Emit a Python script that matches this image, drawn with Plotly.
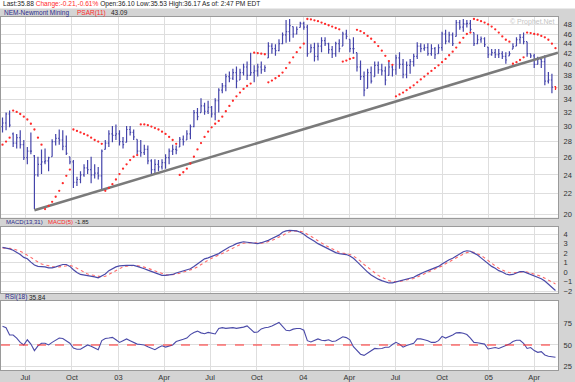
import math
import pandas as pd
import plotly.graph_objects as go

W, H = 575, 382

# ---------------- data (weekly bars) ----------------
weeks = pd.date_range("2002-05-17", periods=157, freq="7D")

high = [31.3,32.0,32.3,29.2,29.0,29.5,28.2,27.3,29.2,26.3,
        26.1,27.0,27.1,26.1,28.3,29.0,29.6,29.5,28.8,26.1,
        25.7,23.8,24.4,25.2,25.7,26.1,25.2,24.9,27.0,28.2,
        29.5,30.1,30.3,29.5,28.6,30.1,30.1,29.6,28.3,28.2,
        27.6,27.5,25.8,25.8,25.7,25.8,26.4,27.1,27.6,27.5,
        28.6,28.8,29.5,30.3,32.4,32.7,34.2,33.5,33.8,33.0,
        34.2,35.8,36.7,38.3,38.7,39.2,39.6,39.2,40.1,40.5,
        42.2,39.8,40.1,40.5,39.8,44.3,44.1,43.9,44.9,46.3,
        49.1,49.3,47.6,47.6,48.7,48.7,48.0,43.9,44.2,44.2,
        45.3,45.3,44.2,43.5,44.4,44.9,46.5,46.9,44.9,45.3,
        42.2,40.7,38.7,39.2,39.6,40.5,40.5,40.1,39.6,40.5,
        39.8,41.8,42.3,41.0,40.5,41.0,42.0,44.3,44.1,43.9,
        44.1,43.9,43.3,43.9,46.5,46.9,46.5,46.3,49.1,49.1,
        49.3,49.1,49.1,46.3,45.9,45.5,45.3,43.3,42.9,42.9,
        42.9,42.5,42.3,42.5,44.1,45.3,46.0,46.3,44.4,42.0,
        42.0,41.4,41.0,41.7,38.6,38.3,36.17]

low = [29.2,29.5,29.9,27.3,27.1,27.1,25.7,25.2,26.4,20.5,
       23.8,24.1,25.2,24.4,26.1,27.5,27.6,26.9,26.3,25.2,
       22.6,22.8,23.1,23.8,24.1,23.1,23.6,23.5,22.3,27.0,
       27.3,27.9,28.2,27.5,27.1,27.9,28.8,28.2,26.4,26.1,
       26.3,25.2,24.0,24.1,24.4,24.6,24.7,25.2,26.3,26.4,
       27.3,27.5,28.2,28.3,29.9,30.9,32.0,31.7,31.8,31.3,
       30.9,32.0,35.0,35.3,36.8,37.2,35.8,37.2,38.0,37.2,
       38.0,36.8,37.8,38.3,38.6,41.2,42.0,41.6,42.5,43.9,
       44.2,44.4,45.2,45.9,47.4,46.9,41.4,42.3,40.5,40.7,
       42.3,43.5,42.0,41.2,41.4,42.3,43.5,44.9,42.3,42.0,
       38.7,37.2,34.5,35.8,36.6,37.8,38.3,38.0,36.3,38.0,
       37.8,38.1,39.2,37.5,37.5,38.3,39.6,41.0,42.3,42.6,
       41.6,41.6,41.0,42.0,42.6,43.9,44.2,43.5,45.5,46.9,
       46.5,47.4,46.5,43.5,43.9,44.2,43.3,41.2,41.6,41.2,
       41.2,41.0,40.1,41.6,42.9,43.5,44.0,43.9,41.4,41.2,
       39.3,40.0,39.3,36.3,36.6,35.0,35.53]

open_ = [30.0,30.5,31.8,29.0,27.8,28.5,27.6,26.0,26.8,26.2,
         24.0,25.2,25.5,25.6,26.1,28.0,28.4,28.2,27.4,26.1,
         25.5,23.2,23.5,24.0,24.8,24.6,24.0,24.2,23.9,27.0,
         27.8,29.0,28.8,29.0,28.0,27.9,29.6,29.2,28.3,26.8,
         26.6,27.0,25.6,24.6,25.2,24.9,25.4,26.0,26.8,27.0,
         27.3,28.3,28.2,29.0,30.0,32.0,32.0,33.0,32.2,32.8,
         31.8,33.8,35.5,36.2,37.8,37.5,38.5,37.2,38.5,39.5,
         38.0,38.5,38.8,39.5,39.0,41.2,43.5,43.0,42.6,44.0,
         45.8,46.5,47.6,46.0,47.4,48.3,47.5,42.3,43.2,41.5,
         43.5,44.6,44.0,42.8,42.0,44.0,43.5,46.0,44.9,43.0,
         42.2,39.5,37.8,35.8,38.5,37.8,39.8,39.0,38.8,38.0,
         39.5,39.0,41.2,40.0,38.2,39.8,40.5,41.5,43.5,43.0,
         43.2,42.0,43.0,42.0,43.2,46.0,44.5,45.8,45.5,48.5,
         47.5,48.2,48.3,46.3,44.0,44.8,45.0,43.3,41.8,42.2,
         41.8,42.0,41.5,41.6,42.9,43.5,44.8,45.3,44.4,42.0,
         41.6,40.0,40.9,40.5,37.0,37.2,36.10]

close = [30.5,31.8,30.2,27.8,28.5,27.6,26.0,26.8,26.8,24.0,
         25.2,25.5,25.6,26.0,28.0,28.4,28.2,27.4,26.5,25.5,
         23.2,23.5,24.0,24.8,24.6,24.0,24.2,23.9,26.8,27.8,
         29.0,28.8,29.0,28.0,27.6,29.6,29.2,28.6,26.8,26.6,
         27.0,25.6,24.6,25.2,24.9,25.4,26.0,26.8,27.0,26.9,
         28.3,28.0,29.0,30.0,32.0,31.4,33.0,32.2,32.8,31.8,
         33.8,35.5,36.2,37.8,37.5,38.5,37.0,38.5,39.5,38.0,
         38.5,38.8,39.5,39.0,39.4,43.5,43.0,42.6,44.0,45.8,
         46.5,47.8,46.0,47.0,48.3,47.5,42.0,43.2,41.5,43.5,
         44.6,44.0,42.8,42.0,44.0,43.0,46.0,45.5,43.0,43.0,
         39.5,37.8,35.5,38.5,37.0,39.8,39.0,38.8,37.2,39.5,
         39.0,41.2,40.0,38.2,39.8,40.5,41.5,43.5,43.0,43.2,
         42.0,43.0,41.8,43.2,46.0,44.5,45.8,44.0,48.5,47.5,
         48.2,48.3,47.0,44.0,44.8,45.0,43.8,41.8,42.2,41.8,
         42.0,41.5,40.8,42.0,43.4,44.8,45.3,44.4,42.0,41.6,
         40.0,40.9,40.5,37.0,37.2,36.0,35.88]

psar = [27.6,28.0,28.5,32.3,32.1,31.8,31.4,31.0,30.4,29.6,
        28.5,27.6,20.5,20.8,21.2,21.7,22.3,23.1,23.9,24.6,
        29.6,29.4,29.2,29.0,28.8,28.5,28.2,28.0,27.7,22.3,
        22.6,23.0,23.5,24.1,24.7,25.2,25.7,26.1,26.3,30.3,
        30.3,30.2,30.0,29.8,29.6,29.3,29.0,28.6,28.2,27.7,
        24.0,24.3,24.7,25.3,26.1,27.0,27.8,28.6,29.3,29.9,
        30.4,30.8,31.4,32.2,33.0,33.8,34.5,35.1,35.7,36.2,
        36.6,42.2,42.1,42.0,41.9,36.8,37.1,37.5,37.9,38.5,
        39.3,40.3,41.3,42.3,43.2,44.0,49.3,49.2,49.0,48.8,
        48.5,48.2,47.9,47.6,47.3,47.0,40.5,40.7,41.0,41.2,
        46.9,46.6,46.2,45.6,45.0,44.3,43.5,42.6,41.6,40.6,
        39.9,34.5,34.8,35.1,35.5,35.9,36.3,36.8,37.3,37.8,
        38.3,38.8,39.3,39.8,40.4,41.0,41.7,42.4,43.2,44.2,
        45.2,46.0,46.3,49.3,49.1,48.8,48.5,48.1,47.6,47.0,
        46.3,45.5,44.8,44.4,40.1,40.4,40.8,41.3,46.3,46.2,
        46.0,45.9,45.6,45.3,44.8,44.0,43.09]

macd = [2.6,2.55,2.45,2.3,2.1,1.85,1.55,1.4,1.05,0.75,
        0.6,0.6,0.55,0.45,0.45,0.55,0.65,0.8,0.8,0.6,
        0.25,-0.05,-0.25,-0.3,-0.35,-0.4,-0.5,-0.6,-0.4,-0.2,
        0.15,0.35,0.55,0.65,0.7,0.7,0.7,0.7,0.6,0.5,
        0.35,0.2,0.05,-0.1,-0.25,-0.35,-0.35,-0.3,-0.25,-0.1,
        0.0,0.1,0.2,0.35,0.6,0.9,1.15,1.4,1.5,1.65,
        1.8,1.95,2.2,2.45,2.65,2.8,3.0,3.1,3.2,3.15,
        3.1,3.05,3.0,3.1,3.2,3.35,3.55,3.7,3.9,4.2,
        4.35,4.4,4.4,4.35,4.2,4.0,3.7,3.5,3.25,3.0,
        2.8,2.6,2.4,2.2,2.05,1.95,1.9,1.85,1.7,1.45,
        1.1,0.7,0.3,0.0,-0.3,-0.55,-0.75,-0.9,-1.05,-1.15,
        -1.15,-1.05,-0.95,-0.85,-0.8,-0.7,-0.55,-0.35,-0.15,0.0,
        0.15,0.3,0.45,0.6,0.85,1.1,1.3,1.45,1.7,1.95,
        2.15,2.25,2.2,2.0,1.8,1.5,1.2,0.9,0.6,0.4,
        0.15,0.0,-0.2,-0.3,-0.25,-0.1,0.05,0.05,-0.1,-0.2,
        -0.35,-0.5,-0.7,-0.95,-1.25,-1.6,-1.95]

macd_signal = [2.55,2.55,2.5,2.45,2.35,2.2,2.0,1.8,1.55,1.3,
               1.05,0.85,0.75,0.65,0.55,0.5,0.55,0.6,0.7,0.7,
               0.6,0.4,0.15,-0.05,-0.2,-0.3,-0.35,-0.45,-0.5,-0.45,
               -0.25,-0.05,0.2,0.4,0.55,0.62,0.67,0.7,0.68,0.62,
               0.52,0.4,0.25,0.1,-0.05,-0.2,-0.28,-0.32,-0.3,-0.22,
               -0.12,0.0,0.1,0.2,0.35,0.55,0.8,1.05,1.25,1.45,
               1.6,1.75,1.95,2.15,2.35,2.55,2.75,2.9,3.05,3.1,
               3.1,3.08,3.05,3.05,3.1,3.2,3.35,3.5,3.7,3.9,
               4.1,4.25,4.35,4.35,4.3,4.2,4.0,3.8,3.55,3.3,
               3.05,2.85,2.65,2.45,2.25,2.1,2.0,1.95,1.85,1.7,
               1.45,1.15,0.8,0.5,0.2,-0.1,-0.35,-0.55,-0.75,-0.9,
               -1.0,-1.0,-1.0,-0.9,-0.85,-0.78,-0.68,-0.52,-0.35,-0.18,
               0.0,0.15,0.3,0.45,0.65,0.88,1.1,1.3,1.5,1.7,
               1.9,2.05,2.12,2.1,1.95,1.75,1.5,1.2,0.9,0.65,
               0.4,0.2,0.05,-0.05,-0.1,-0.05,0.0,0.05,0.0,-0.1,
               -0.2,-0.3,-0.45,-0.65,-0.85,-1.05,-1.25]

rsi = [71.5,70,61.5,61.5,58,53,50,56,51,43.5,
       49,52,52,50,53,56,58,57.5,55,52,
       46.5,45,45,47.5,50,48.5,47,44.6,55,57.5,
       58,58.8,56,53,55,57,55,53,51,50.5,
       50,48,46,44.5,47,49,47.5,48.5,50,54,
       55,56.5,58,62,64.5,66,64,63,64.5,64,
       62.7,69,70,69.2,70,70,69.2,69.8,70.6,72,
       68,64.6,65,68.5,69.8,70.4,72,74,76,71.5,
       67,66.5,68.3,69,69,67,55,53.5,55,57,
       55.5,55,56,54,54.5,57,59.5,58.5,56,48,
       43,39.3,38,41,44,46,45.6,46,47.3,47.3,
       50.5,53,51,47.5,49.5,50.5,52,57,57,56,
       55,53,53,55,60,58,59.5,61.5,64,64.2,
       63.5,62,58,53,52.5,52,51,45.4,46.5,47,
       46,47.5,49.5,51,54,55.5,55.5,52,46,47,
       43.5,41.5,42.3,38.5,37,36,35.84]

# trend line anchors (date, price)
trend_dates = ["2002-07-19", "2005-05-18"]
trend_prices = [20.4, 42.2]

tick_dates = ["2002-07-01", "2002-10-01", "2003-01-01", "2003-04-01",
              "2003-07-01", "2003-10-01", "2004-01-01", "2004-04-01",
              "2004-07-01", "2004-10-01", "2005-01-01", "2005-04-01"]
tick_text = ["Jul", "Oct", "03", "Apr", "Jul", "Oct", "04", "Apr",
             "Jul", "Oct", "05", "Apr"]
price_ticks = [20, 22, 24, 26, 28, 30, 32, 34, 36, 38, 40, 42, 44, 46, 48]
macd_ticks = [-2, -1, 0, 1, 2, 3, 4]
rsi_ticks = [25, 50, 75]
rsi_mid = 50

# ---------------- styling ----------------
FONT = "Liberation Sans, Arial, sans-serif"
BLUE = "#4444aa"
NAVY = "#2b2b8c"
RED = "#ff2a2a"
GRID = "#dedede"
FRAME = "#9a9a9a"
BG = "#d4d4d4"


def px(x):
    return x / W


def py(y):
    return 1 - y / H


X_RANGE = ["2002-05-14", "2005-05-18"]
XDOM = [px(1), px(558)]

fig = go.Figure()

n = len(weeks)
main_open = list(open_[:-1]) + [None]
main_high = list(high[:-1]) + [None]
main_low = list(low[:-1]) + [None]
main_close = list(close[:-1]) + [None]
last_open = [None] * (n - 1) + [open_[-1]]
last_high = [None] * (n - 1) + [high[-1]]
last_low = [None] * (n - 1) + [low[-1]]
last_close = [None] * (n - 1) + [close[-1]]

fig.add_trace(go.Ohlc(
    x=weeks, open=main_open, high=main_high, low=main_low, close=main_close,
    increasing=dict(line=dict(color=BLUE, width=1.2)),
    decreasing=dict(line=dict(color=BLUE, width=1.2)),
    tickwidth=0.3, xaxis="x", yaxis="y", hoverinfo="skip"))
fig.add_trace(go.Ohlc(
    x=weeks, open=last_open, high=last_high, low=last_low, close=last_close,
    increasing=dict(line=dict(color=RED, width=1.2)),
    decreasing=dict(line=dict(color=RED, width=1.2)),
    tickwidth=0.3, xaxis="x", yaxis="y", hoverinfo="skip"))

fig.add_trace(go.Scatter(
    x=trend_dates, y=trend_prices, mode="lines",
    line=dict(color="#7a7a7a", width=2.6), xaxis="x", yaxis="y",
    hoverinfo="skip"))

fig.add_trace(go.Scatter(
    x=weeks, y=psar, mode="markers",
    marker=dict(color=RED, size=2.3, line=dict(width=0)),
    xaxis="x", yaxis="y", hoverinfo="skip"))

fig.add_trace(go.Scatter(
    x=weeks, y=macd_signal, mode="lines",
    line=dict(color="#ff6a6a", width=1.1, dash="dot"),
    xaxis="x2", yaxis="y2", hoverinfo="skip"))
fig.add_trace(go.Scatter(
    x=weeks, y=macd, mode="lines",
    line=dict(color="#4a4aa8", width=1.2),
    xaxis="x2", yaxis="y2", hoverinfo="skip"))

fig.add_trace(go.Scatter(
    x=weeks, y=rsi, mode="lines",
    line=dict(color="#4a4aa8", width=1.1),
    xaxis="x3", yaxis="y3", hoverinfo="skip"))

common_x = dict(type="date", range=X_RANGE, domain=XDOM,
                showgrid=True, gridcolor=GRID, gridwidth=1,
                tickmode="array", tickvals=tick_dates, ticktext=tick_text,
                showline=True, linecolor=FRAME, linewidth=1, mirror=True,
                zeroline=False, ticks="", fixedrange=True,
                rangeslider=dict(visible=False))
tickfont = dict(family=FONT, size=7.5, color="#333333")
common_y = dict(showgrid=True, gridcolor=GRID, gridwidth=1,
                showline=True, linecolor=FRAME, linewidth=1, mirror=True,
                zeroline=False, ticks="", side="right", tickfont=tickfont,
                ticklabelstandoff=3,
                tickmode="array", fixedrange=True)

fig.update_layout(
    width=W, height=H, margin=dict(l=0, r=0, t=0, b=0),
    paper_bgcolor=BG, plot_bgcolor="white", showlegend=False,
    font=dict(family=FONT, size=8, color="#333333"),
    xaxis=dict(common_x, anchor="y", showticklabels=False),
    yaxis=dict(common_y, anchor="x", type="log",
               range=[math.log10(19.7), math.log10(49.8)],
               domain=[py(220), py(17)], tickvals=price_ticks),
    xaxis2=dict(common_x, anchor="y2", showticklabels=False),
    yaxis2=dict(common_y, anchor="x2", range=[-2.2, 4.8],
                domain=[py(296), py(229)], tickvals=macd_ticks),
    xaxis3=dict(common_x, anchor="y3", showticklabels=True, tickfont=tickfont),
    yaxis3=dict(common_y, anchor="x3", range=[21, 101],
                domain=[py(374), py(304)], tickvals=rsi_ticks),
)

shapes = [
    dict(type="rect", xref="paper", yref="paper", x0=0, x1=1,
         y0=py(8.5), y1=1, fillcolor="white", line=dict(width=0), layer="below"),
    dict(type="line", xref="x3 domain", yref="y3", x0=0, x1=1,
         y0=rsi_mid, y1=rsi_mid, line=dict(color=RED, width=1.2, dash="dash")),
]
fig.update_layout(shapes=shapes)


def label(x, y, text, color, size=6.5):
    return dict(xref="paper", yref="paper", x=px(x), y=py(y), text=text,
                showarrow=False, xanchor="left", yanchor="middle",
                font=dict(family=FONT, size=size, color=color))


header = ("Last:35.88 <span style='color:#ff2a2a'>Change:-0.21,-0.61%</span>"
          " Open:36.10 Low:35.53 High:36.17 As of: 2:47 PM EDT")
annotations = [
    label(1, 4.3, header, "#222222", 6.6),
    label(2, 12.8, "NEM-Newmont Mining", NAVY),
    label(75, 12.8, "PSAR(11)", RED),
    label(109, 12.8, "43.09", "#222222"),
    label(4, 224.6, "MACD(13,31)", NAVY, 6.0),
    label(46, 224.6, "MACD(5)", RED, 6.0),
    label(73, 224.6, "-1.85", "#222222", 6.0),
    label(3, 300.5, "RSI(18)", NAVY),
    label(27, 300.5, "35.84", "#222222"),
    dict(xref="paper", yref="paper", x=px(557), y=py(22.5),
         text="© Prophet.Net", showarrow=False, xanchor="right",
         yanchor="middle", font=dict(family=FONT, size=7, color="#c4c4c4")),
]
fig.update_layout(annotations=annotations)

fig.write_html("out.html",
               config={"displayModeBar": False, "staticPlot": True},
               post_script="document.body.style.margin='0px';"
                           "document.body.style.padding='0px';")
